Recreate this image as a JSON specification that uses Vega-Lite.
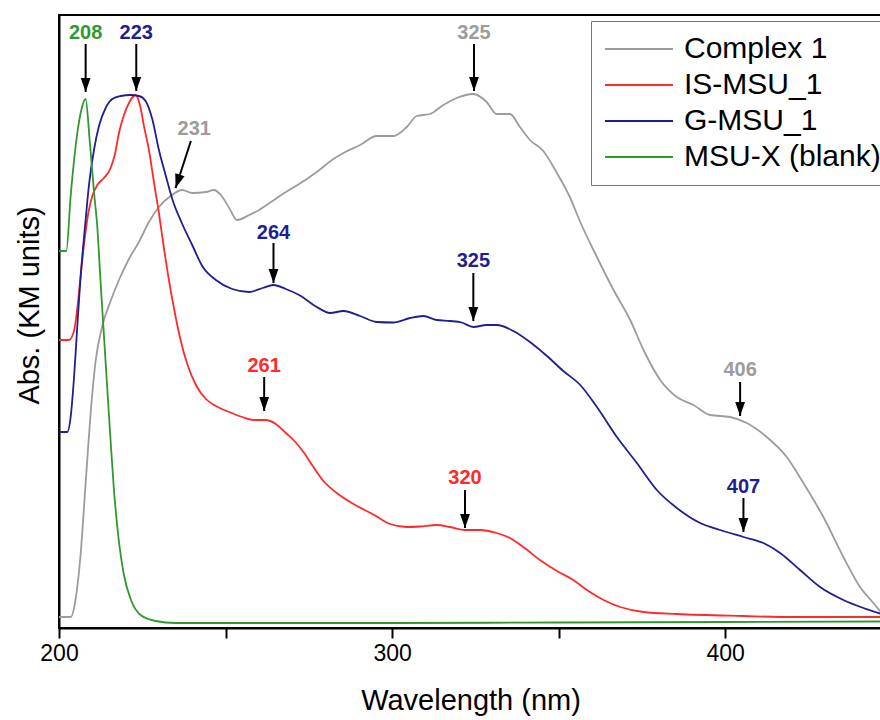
{
  "$schema": "https://vega.github.io/schema/vega-lite/v6.json",
  "width": 823,
  "height": 613,
  "autosize": {"type": "none"},
  "padding": {"left": 59, "top": 15, "right": 0, "bottom": 92},
  "background": "white",
  "config": {
    "font": "Liberation Sans",
    "view": {"stroke": "black", "strokeWidth": 2}
  },
  "datasets": {
    "spectra": [
      {"series": "Complex 1", "wl": 200, "abs": 0.11},
      {"series": "Complex 1", "wl": 203.5, "abs": 0.11},
      {"series": "Complex 1", "wl": 205.0, "abs": 0.29},
      {"series": "Complex 1", "wl": 206.5, "abs": 0.74},
      {"series": "Complex 1", "wl": 208.0, "abs": 1.45},
      {"series": "Complex 1", "wl": 209.5, "abs": 2.15},
      {"series": "Complex 1", "wl": 211.0, "abs": 2.67},
      {"series": "Complex 1", "wl": 213.0, "abs": 3.02},
      {"series": "Complex 1", "wl": 215.5, "abs": 3.27},
      {"series": "Complex 1", "wl": 218.0, "abs": 3.48},
      {"series": "Complex 1", "wl": 221.0, "abs": 3.69},
      {"series": "Complex 1", "wl": 224.0, "abs": 3.86},
      {"series": "Complex 1", "wl": 227.0, "abs": 4.06},
      {"series": "Complex 1", "wl": 230.0, "abs": 4.21},
      {"series": "Complex 1", "wl": 233.5, "abs": 4.32},
      {"series": "Complex 1", "wl": 237.0, "abs": 4.38},
      {"series": "Complex 1", "wl": 240.0, "abs": 4.35},
      {"series": "Complex 1", "wl": 244.1, "abs": 4.36},
      {"series": "Complex 1", "wl": 246.5, "abs": 4.38},
      {"series": "Complex 1", "wl": 248.6, "abs": 4.33},
      {"series": "Complex 1", "wl": 251.1, "abs": 4.20},
      {"series": "Complex 1", "wl": 253.5, "abs": 4.08},
      {"series": "Complex 1", "wl": 257.1, "abs": 4.13},
      {"series": "Complex 1", "wl": 260.1, "abs": 4.18},
      {"series": "Complex 1", "wl": 264.1, "abs": 4.27},
      {"series": "Complex 1", "wl": 268.1, "abs": 4.36},
      {"series": "Complex 1", "wl": 272.1, "abs": 4.44},
      {"series": "Complex 1", "wl": 277.4, "abs": 4.56},
      {"series": "Complex 1", "wl": 282.4, "abs": 4.69},
      {"series": "Complex 1", "wl": 285.4, "abs": 4.75},
      {"series": "Complex 1", "wl": 290.4, "abs": 4.83},
      {"series": "Complex 1", "wl": 295.4, "abs": 4.92},
      {"series": "Complex 1", "wl": 300.4, "abs": 4.92},
      {"series": "Complex 1", "wl": 304.4, "abs": 5.01},
      {"series": "Complex 1", "wl": 307.4, "abs": 5.12},
      {"series": "Complex 1", "wl": 311.4, "abs": 5.14},
      {"series": "Complex 1", "wl": 315.4, "abs": 5.23},
      {"series": "Complex 1", "wl": 319.4, "abs": 5.30},
      {"series": "Complex 1", "wl": 324.4, "abs": 5.34},
      {"series": "Complex 1", "wl": 328.4, "abs": 5.26},
      {"series": "Complex 1", "wl": 331.4, "abs": 5.14},
      {"series": "Complex 1", "wl": 335.4, "abs": 5.14},
      {"series": "Complex 1", "wl": 338.4, "abs": 5.01},
      {"series": "Complex 1", "wl": 341.4, "abs": 4.88},
      {"series": "Complex 1", "wl": 345.4, "abs": 4.77},
      {"series": "Complex 1", "wl": 349.5, "abs": 4.55},
      {"series": "Complex 1", "wl": 353.5, "abs": 4.30},
      {"series": "Complex 1", "wl": 356.5, "abs": 4.06},
      {"series": "Complex 1", "wl": 361.5, "abs": 3.71},
      {"series": "Complex 1", "wl": 366.5, "abs": 3.38},
      {"series": "Complex 1", "wl": 371.5, "abs": 3.08},
      {"series": "Complex 1", "wl": 375.5, "abs": 2.78},
      {"series": "Complex 1", "wl": 380.5, "abs": 2.48},
      {"series": "Complex 1", "wl": 385.5, "abs": 2.31},
      {"series": "Complex 1", "wl": 390.5, "abs": 2.23},
      {"series": "Complex 1", "wl": 395.5, "abs": 2.13},
      {"series": "Complex 1", "wl": 401.5, "abs": 2.11},
      {"series": "Complex 1", "wl": 406.5, "abs": 2.05},
      {"series": "Complex 1", "wl": 412.5, "abs": 1.91},
      {"series": "Complex 1", "wl": 418.5, "abs": 1.71},
      {"series": "Complex 1", "wl": 423.5, "abs": 1.45},
      {"series": "Complex 1", "wl": 429.5, "abs": 1.11},
      {"series": "Complex 1", "wl": 435.5, "abs": 0.71},
      {"series": "Complex 1", "wl": 440.5, "abs": 0.41},
      {"series": "Complex 1", "wl": 444.5, "abs": 0.25},
      {"series": "Complex 1", "wl": 447.0, "abs": 0.15},

      {"series": "IS-MSU_1", "wl": 200, "abs": 2.88},
      {"series": "IS-MSU_1", "wl": 203.0, "abs": 2.88},
      {"series": "IS-MSU_1", "wl": 204.5, "abs": 2.97},
      {"series": "IS-MSU_1", "wl": 205.5, "abs": 3.20},
      {"series": "IS-MSU_1", "wl": 206.5, "abs": 3.52},
      {"series": "IS-MSU_1", "wl": 207.5, "abs": 3.83},
      {"series": "IS-MSU_1", "wl": 208.8, "abs": 4.15},
      {"series": "IS-MSU_1", "wl": 210.0, "abs": 4.32},
      {"series": "IS-MSU_1", "wl": 211.5, "abs": 4.43},
      {"series": "IS-MSU_1", "wl": 213.5, "abs": 4.50},
      {"series": "IS-MSU_1", "wl": 215.5, "abs": 4.60},
      {"series": "IS-MSU_1", "wl": 216.8, "abs": 4.74},
      {"series": "IS-MSU_1", "wl": 218.0, "abs": 4.95},
      {"series": "IS-MSU_1", "wl": 219.5, "abs": 5.13},
      {"series": "IS-MSU_1", "wl": 221.0, "abs": 5.25},
      {"series": "IS-MSU_1", "wl": 223.0, "abs": 5.33},
      {"series": "IS-MSU_1", "wl": 224.3, "abs": 5.23},
      {"series": "IS-MSU_1", "wl": 225.5, "abs": 5.02},
      {"series": "IS-MSU_1", "wl": 227.0, "abs": 4.78},
      {"series": "IS-MSU_1", "wl": 228.5, "abs": 4.46},
      {"series": "IS-MSU_1", "wl": 230.0, "abs": 4.15},
      {"series": "IS-MSU_1", "wl": 231.5, "abs": 3.80},
      {"series": "IS-MSU_1", "wl": 233.0, "abs": 3.48},
      {"series": "IS-MSU_1", "wl": 234.5, "abs": 3.20},
      {"series": "IS-MSU_1", "wl": 236.5, "abs": 2.88},
      {"series": "IS-MSU_1", "wl": 238.5, "abs": 2.64},
      {"series": "IS-MSU_1", "wl": 241.1, "abs": 2.43},
      {"series": "IS-MSU_1", "wl": 244.1, "abs": 2.29},
      {"series": "IS-MSU_1", "wl": 247.1, "abs": 2.22},
      {"series": "IS-MSU_1", "wl": 251.1, "abs": 2.16},
      {"series": "IS-MSU_1", "wl": 255.0, "abs": 2.11},
      {"series": "IS-MSU_1", "wl": 258.6, "abs": 2.08},
      {"series": "IS-MSU_1", "wl": 262.1, "abs": 2.08},
      {"series": "IS-MSU_1", "wl": 265.1, "abs": 2.04},
      {"series": "IS-MSU_1", "wl": 268.1, "abs": 1.95},
      {"series": "IS-MSU_1", "wl": 270.4, "abs": 1.88},
      {"series": "IS-MSU_1", "wl": 273.4, "abs": 1.76},
      {"series": "IS-MSU_1", "wl": 276.4, "abs": 1.61},
      {"series": "IS-MSU_1", "wl": 279.4, "abs": 1.47},
      {"series": "IS-MSU_1", "wl": 283.4, "abs": 1.35},
      {"series": "IS-MSU_1", "wl": 288.4, "abs": 1.24},
      {"series": "IS-MSU_1", "wl": 294.4, "abs": 1.135},
      {"series": "IS-MSU_1", "wl": 299.4, "abs": 1.04},
      {"series": "IS-MSU_1", "wl": 304.4, "abs": 1.01},
      {"series": "IS-MSU_1", "wl": 308.4, "abs": 1.015},
      {"series": "IS-MSU_1", "wl": 313.4, "abs": 1.03},
      {"series": "IS-MSU_1", "wl": 317.4, "abs": 1.01},
      {"series": "IS-MSU_1", "wl": 321.9, "abs": 0.98},
      {"series": "IS-MSU_1", "wl": 326.4, "abs": 0.98},
      {"series": "IS-MSU_1", "wl": 331.4, "abs": 0.95},
      {"series": "IS-MSU_1", "wl": 335.4, "abs": 0.90},
      {"series": "IS-MSU_1", "wl": 339.4, "abs": 0.81},
      {"series": "IS-MSU_1", "wl": 344.4, "abs": 0.68},
      {"series": "IS-MSU_1", "wl": 349.5, "abs": 0.57},
      {"series": "IS-MSU_1", "wl": 354.4, "abs": 0.48},
      {"series": "IS-MSU_1", "wl": 358.5, "abs": 0.38},
      {"series": "IS-MSU_1", "wl": 363.5, "abs": 0.28},
      {"series": "IS-MSU_1", "wl": 368.5, "abs": 0.21},
      {"series": "IS-MSU_1", "wl": 375.5, "abs": 0.16},
      {"series": "IS-MSU_1", "wl": 385.5, "abs": 0.14},
      {"series": "IS-MSU_1", "wl": 405.5, "abs": 0.12},
      {"series": "IS-MSU_1", "wl": 420.4, "abs": 0.11},
      {"series": "IS-MSU_1", "wl": 447.0, "abs": 0.11},

      {"series": "G-MSU_1", "wl": 200, "abs": 1.96},
      {"series": "G-MSU_1", "wl": 202.5, "abs": 1.96},
      {"series": "G-MSU_1", "wl": 203.5, "abs": 2.11},
      {"series": "G-MSU_1", "wl": 204.5, "abs": 2.50},
      {"series": "G-MSU_1", "wl": 205.5, "abs": 3.02},
      {"series": "G-MSU_1", "wl": 206.5, "abs": 3.52},
      {"series": "G-MSU_1", "wl": 207.8, "abs": 4.01},
      {"series": "G-MSU_1", "wl": 209.0, "abs": 4.43},
      {"series": "G-MSU_1", "wl": 210.5, "abs": 4.78},
      {"series": "G-MSU_1", "wl": 212.0, "abs": 5.02},
      {"series": "G-MSU_1", "wl": 214.0, "abs": 5.20},
      {"series": "G-MSU_1", "wl": 216.0, "abs": 5.29},
      {"series": "G-MSU_1", "wl": 218.5, "abs": 5.32},
      {"series": "G-MSU_1", "wl": 221.5, "abs": 5.33},
      {"series": "G-MSU_1", "wl": 224.0, "abs": 5.32},
      {"series": "G-MSU_1", "wl": 226.0, "abs": 5.27},
      {"series": "G-MSU_1", "wl": 228.0, "abs": 5.09},
      {"series": "G-MSU_1", "wl": 230.0, "abs": 4.78},
      {"series": "G-MSU_1", "wl": 232.0, "abs": 4.53},
      {"series": "G-MSU_1", "wl": 234.0, "abs": 4.29},
      {"series": "G-MSU_1", "wl": 237.0, "abs": 4.04},
      {"series": "G-MSU_1", "wl": 240.0, "abs": 3.83},
      {"series": "G-MSU_1", "wl": 243.0, "abs": 3.62},
      {"series": "G-MSU_1", "wl": 247.1, "abs": 3.48},
      {"series": "G-MSU_1", "wl": 252.0, "abs": 3.39},
      {"series": "G-MSU_1", "wl": 257.1, "abs": 3.36},
      {"series": "G-MSU_1", "wl": 261.1, "abs": 3.40},
      {"series": "G-MSU_1", "wl": 264.4, "abs": 3.43},
      {"series": "G-MSU_1", "wl": 268.1, "abs": 3.39},
      {"series": "G-MSU_1", "wl": 272.1, "abs": 3.33},
      {"series": "G-MSU_1", "wl": 277.4, "abs": 3.21},
      {"series": "G-MSU_1", "wl": 281.4, "abs": 3.15},
      {"series": "G-MSU_1", "wl": 285.4, "abs": 3.17},
      {"series": "G-MSU_1", "wl": 290.4, "abs": 3.12},
      {"series": "G-MSU_1", "wl": 295.4, "abs": 3.06},
      {"series": "G-MSU_1", "wl": 300.4, "abs": 3.055},
      {"series": "G-MSU_1", "wl": 305.4, "abs": 3.10},
      {"series": "G-MSU_1", "wl": 309.4, "abs": 3.12},
      {"series": "G-MSU_1", "wl": 313.4, "abs": 3.08},
      {"series": "G-MSU_1", "wl": 317.4, "abs": 3.07},
      {"series": "G-MSU_1", "wl": 320.9, "abs": 3.055},
      {"series": "G-MSU_1", "wl": 324.4, "abs": 3.01},
      {"series": "G-MSU_1", "wl": 328.4, "abs": 3.03},
      {"series": "G-MSU_1", "wl": 331.4, "abs": 3.03},
      {"series": "G-MSU_1", "wl": 336.4, "abs": 2.97},
      {"series": "G-MSU_1", "wl": 341.4, "abs": 2.86},
      {"series": "G-MSU_1", "wl": 346.5, "abs": 2.72},
      {"series": "G-MSU_1", "wl": 351.4, "abs": 2.57},
      {"series": "G-MSU_1", "wl": 356.5, "abs": 2.43},
      {"series": "G-MSU_1", "wl": 361.5, "abs": 2.21},
      {"series": "G-MSU_1", "wl": 367.5, "abs": 1.91},
      {"series": "G-MSU_1", "wl": 373.5, "abs": 1.65},
      {"series": "G-MSU_1", "wl": 379.5, "abs": 1.38},
      {"series": "G-MSU_1", "wl": 385.5, "abs": 1.20},
      {"series": "G-MSU_1", "wl": 392.5, "abs": 1.05},
      {"series": "G-MSU_1", "wl": 398.5, "abs": 0.98},
      {"series": "G-MSU_1", "wl": 405.5, "abs": 0.91},
      {"series": "G-MSU_1", "wl": 411.5, "abs": 0.85},
      {"series": "G-MSU_1", "wl": 416.5, "abs": 0.75},
      {"series": "G-MSU_1", "wl": 422.5, "abs": 0.58},
      {"series": "G-MSU_1", "wl": 428.5, "abs": 0.41},
      {"series": "G-MSU_1", "wl": 435.5, "abs": 0.28},
      {"series": "G-MSU_1", "wl": 441.5, "abs": 0.20},
      {"series": "G-MSU_1", "wl": 447.0, "abs": 0.14},

      {"series": "MSU-X (blank)", "wl": 200, "abs": 3.77},
      {"series": "MSU-X (blank)", "wl": 202.2, "abs": 3.77},
      {"series": "MSU-X (blank)", "wl": 203.5, "abs": 4.32},
      {"series": "MSU-X (blank)", "wl": 205.5, "abs": 4.95},
      {"series": "MSU-X (blank)", "wl": 206.7, "abs": 5.18},
      {"series": "MSU-X (blank)", "wl": 208.0, "abs": 5.29},
      {"series": "MSU-X (blank)", "wl": 209.2, "abs": 4.88},
      {"series": "MSU-X (blank)", "wl": 210.5, "abs": 4.36},
      {"series": "MSU-X (blank)", "wl": 211.5, "abs": 4.01},
      {"series": "MSU-X (blank)", "wl": 212.5, "abs": 3.45},
      {"series": "MSU-X (blank)", "wl": 213.5, "abs": 2.92},
      {"series": "MSU-X (blank)", "wl": 214.5, "abs": 2.39},
      {"series": "MSU-X (blank)", "wl": 215.5, "abs": 1.87},
      {"series": "MSU-X (blank)", "wl": 216.5, "abs": 1.38},
      {"series": "MSU-X (blank)", "wl": 217.8, "abs": 0.92},
      {"series": "MSU-X (blank)", "wl": 219.5, "abs": 0.53},
      {"series": "MSU-X (blank)", "wl": 221.5, "abs": 0.29},
      {"series": "MSU-X (blank)", "wl": 224.5, "abs": 0.13},
      {"series": "MSU-X (blank)", "wl": 229.0, "abs": 0.07},
      {"series": "MSU-X (blank)", "wl": 235.0, "abs": 0.05},
      {"series": "MSU-X (blank)", "wl": 300.0, "abs": 0.05},
      {"series": "MSU-X (blank)", "wl": 350.0, "abs": 0.055},
      {"series": "MSU-X (blank)", "wl": 400.0, "abs": 0.06},
      {"series": "MSU-X (blank)", "wl": 447.0, "abs": 0.065}
    ],
    "peaks": [
      {"label": "208", "series": "MSU-X (blank)", "wl": 208.0, "y": 5.95, "wl_top": 208.0, "y_top": 5.84, "wl_tip": 208.0, "y_tip": 5.36, "angle": 0},
      {"label": "223", "series": "G-MSU_1", "wl": 223.2, "y": 5.95, "wl_top": 223.2, "y_top": 5.84, "wl_tip": 223.2, "y_tip": 5.37, "angle": 0},
      {"label": "231", "series": "Complex 1", "wl": 240.6, "y": 4.99, "wl_top": 239.6, "y_top": 4.87, "wl_tip": 235.0, "y_tip": 4.40, "angle": 18},
      {"label": "264", "series": "G-MSU_1", "wl": 264.4, "y": 3.95, "wl_top": 264.4, "y_top": 3.85, "wl_tip": 264.4, "y_tip": 3.45, "angle": 0},
      {"label": "325", "series": "Complex 1", "wl": 324.6, "y": 5.95, "wl_top": 324.6, "y_top": 5.84, "wl_tip": 324.6, "y_tip": 5.37, "angle": 0},
      {"label": "325", "series": "G-MSU_1", "wl": 324.4, "y": 3.67, "wl_top": 324.4, "y_top": 3.55, "wl_tip": 324.4, "y_tip": 3.07, "angle": 0},
      {"label": "261", "series": "IS-MSU_1", "wl": 261.6, "y": 2.62, "wl_top": 261.6, "y_top": 2.51, "wl_tip": 261.6, "y_tip": 2.17, "angle": 0},
      {"label": "320", "series": "IS-MSU_1", "wl": 321.9, "y": 1.50, "wl_top": 321.9, "y_top": 1.38, "wl_tip": 321.9, "y_tip": 1.00, "angle": 0},
      {"label": "406", "series": "Complex 1", "wl": 404.5, "y": 2.58, "wl_top": 404.5, "y_top": 2.46, "wl_tip": 404.5, "y_tip": 2.12, "angle": 0},
      {"label": "407", "series": "G-MSU_1", "wl": 405.5, "y": 1.41, "wl_top": 405.5, "y_top": 1.30, "wl_tip": 405.5, "y_tip": 0.96, "angle": 0}
    ]
  },
  "layer": [
    {
      "data": {"name": "spectra"},
      "mark": {"type": "line", "strokeWidth": 1.8, "interpolate": "monotone"},
      "encoding": {
        "x": {
          "field": "wl", "type": "quantitative", "title": "Wavelength (nm)",
          "scale": {"domain": [200, 447.1], "nice": false, "zero": false},
          "axis": {
            "values": [200, 250, 300, 350, 400],
            "labelExpr": "datum.value % 100 === 0 ? datum.label : ''",
            "titleFont": "Liberation Sans", "titleFontSize": 29, "titleFontWeight": "normal", "titleColor": "black",
            "labelFont": "Liberation Sans", "labelFontSize": 23, "labelColor": "black",
            "labelFlush": false, "labelOverlap": false,
            "tickColor": "black", "tickWidth": 2, "tickSize": 10,
            "domainColor": "black", "domainWidth": 2,
            "grid": false, "labelPadding": 4, "titlePadding": 21
          }
        },
        "y": {
          "field": "abs", "type": "quantitative", "title": "Abs. (KM units)",
          "scale": {"domain": [0, 6.13], "nice": false, "zero": false},
          "axis": {
            "ticks": false, "labels": false, "grid": false,
            "domainColor": "black", "domainWidth": 2,
            "titleFont": "Liberation Sans", "titleFontSize": 29, "titleFontWeight": "normal", "titleColor": "black",
            "titlePadding": 15, "titleY": 290
          }
        },
        "color": {
          "field": "series", "type": "nominal",
          "scale": {
            "domain": ["Complex 1", "IS-MSU_1", "G-MSU_1", "MSU-X (blank)"],
            "range": ["#9c9c9c", "#ff2a2a", "#1f1f8f", "#2e9a2e"]
          },
          "legend": {
            "orient": "none", "legendX": 532, "legendY": 6,
            "title": null,
            "symbolType": "stroke", "symbolSize": 4624, "symbolStrokeWidth": 1.8,
            "labelFont": "Liberation Sans", "labelFontSize": 30, "labelColor": "black", "labelLimit": 0,
            "labelOffset": 10,
            "strokeColor": "#777777", "fillColor": "white",
            "padding": 13, "clipHeight": 30, "rowPadding": 6
          }
        },
        "detail": {"field": "series"}
      }
    },
    {
      "data": {"name": "peaks"},
      "mark": {"type": "rule", "color": "black", "strokeWidth": 2},
      "encoding": {
        "x": {"field": "wl_top", "type": "quantitative", "title": "Wavelength (nm)"},
        "y": {"field": "y_top", "type": "quantitative", "title": "Abs. (KM units)"},
        "x2": {"field": "wl_tip"},
        "y2": {"field": "y_tip"}
      }
    },
    {
      "data": {"name": "peaks"},
      "mark": {"type": "point", "shape": "M-0.35,-1L0.35,-1L0,0Z", "size": 784, "filled": true, "color": "black", "opacity": 1, "strokeWidth": 0},
      "encoding": {
        "x": {"field": "wl_tip", "type": "quantitative", "title": "Wavelength (nm)"},
        "y": {"field": "y_tip", "type": "quantitative", "title": "Abs. (KM units)"},
        "angle": {"field": "angle", "type": "quantitative", "scale": null}
      }
    },
    {
      "data": {"name": "peaks"},
      "mark": {"type": "text", "font": "Liberation Sans", "fontSize": 20, "fontWeight": "bold", "align": "center", "baseline": "middle"},
      "encoding": {
        "x": {"field": "wl", "type": "quantitative", "title": "Wavelength (nm)"},
        "y": {"field": "y", "type": "quantitative", "title": "Abs. (KM units)"},
        "text": {"field": "label"},
        "color": {"field": "series", "type": "nominal", "legend": null}
      }
    }
  ]
}
